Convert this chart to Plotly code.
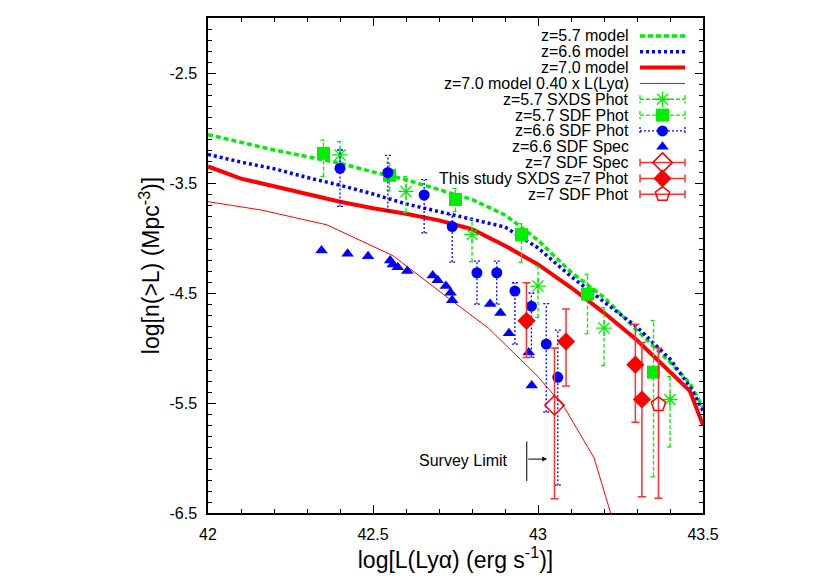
import plotly.graph_objects as go

X_RANGE = [42.0, 43.5]
Y_RANGE = [-6.5, -2.0]

# model curves
model_x = [42.0, 42.1, 42.2, 42.3, 42.4, 42.5, 42.6, 42.7, 42.8, 42.9, 43.0, 43.1, 43.2, 43.3, 43.4, 43.46, 43.5]
model_z57 = [-3.06, -3.13, -3.20, -3.26, -3.32, -3.40, -3.47, -3.56, -3.65, -3.79, -4.02, -4.31, -4.54, -4.84, -5.13, -5.32, -5.54]
model_z66 = [-3.24, -3.31, -3.37, -3.45, -3.52, -3.60, -3.69, -3.76, -3.83, -3.90, -4.09, -4.35, -4.58, -4.81, -5.10, -5.35, -5.57]
model_z70 = [-3.35, -3.46, -3.53, -3.60, -3.67, -3.73, -3.78, -3.84, -3.92, -4.07, -4.24, -4.45, -4.68, -4.93, -5.22, -5.39, -5.70]
faint_x = [42.0, 42.16, 42.36, 42.56, 42.73, 42.85, 43.0, 43.08, 43.17, 43.22, 43.30]
faint_z70 = [-3.67, -3.745, -3.88, -4.16, -4.55, -4.82, -5.26, -5.54, -6.00, -6.50, -7.30]

# z=5.7 SXDS Phot
sxds57_x = [42.40, 42.60, 42.80, 43.00, 43.20, 43.40]
sxds57_y = [-3.245, -3.577, -3.969, -4.437, -4.819, -5.468]
sxds57_hi = [-3.124, -3.441, -3.832, -4.256, -4.633, -5.260]
sxds57_lo = [-3.36, -3.767, -4.215, -4.723, -5.161, -5.900]

# z=5.7 SDF Phot
sdf57_x = [42.35, 42.55, 42.75, 42.95, 43.15, 43.35]
sdf57_y = [-3.23, -3.43, -3.65, -3.97, -4.51, -5.22]
sdf57_hi = [-3.11, -3.32, -3.55, -3.87, -4.33, -4.75]
sdf57_lo = [-3.44, -3.57, -3.76, -4.22, -4.87, -6.17]

# z=6.6 SDF Phot
sdf66_x = [42.40, 42.545, 42.655, 42.74, 42.815, 42.875, 42.93, 42.98, 43.025, 43.06]
sdf66_y = [-3.366, -3.405, -3.609, -3.896, -4.316, -4.316, -4.482, -4.62, -4.964, -5.267]
sdf66_hi = [-3.20, -3.248, -3.470, -3.788, -4.210, -4.210, -4.407, -4.50, -4.597, -4.838]
sdf66_lo = [-3.713, -3.758, -3.954, -4.219, -4.602, -4.602, -4.964, -5.086, -5.583, -6.247]

# z=6.6 SDF Spec
spec66_x = [42.344, 42.423, 42.485, 42.552, 42.560, 42.575, 42.604, 42.681, 42.696, 42.721,
            42.735, 42.740, 42.855, 42.886, 42.912, 42.972, 42.981]
spec66_y = [-4.114, -4.144, -4.167, -4.204, -4.240, -4.265, -4.301, -4.340, -4.385, -4.437,
            -4.497, -4.566, -4.600, -4.681, -4.867, -5.040, -5.342]

# z=7 SDF Spec
spec7_x = [43.05]
spec7_y = [-5.52]
spec7_hi = [-5.00]
spec7_lo = [-6.37]

# This study SXDS z=7 Phot
sxds7_x = [42.965, 43.085, 43.295, 43.315]
sxds7_y = [-4.753, -4.942, -5.152, -5.468]
sxds7_hi = [-4.407, -4.645, -4.783, -4.950]
sxds7_lo = [-5.086, -5.346, -5.674, -6.352]

# z=7 SDF Phot
sdf7_x = [43.365]
sdf7_y = [-5.513]
sdf7_hi = [-5.00]
sdf7_lo = [-6.367]

SURVEY_LIMIT = 42.966

x_ticks = [42, 42.5, 43, 43.5]
x_ticktext = ["42", "42.5", "43", "43.5"]
y_ticks = [-6.5, -5.5, -4.5, -3.5, -2.5]
y_ticktext = ["-6.5", "-5.5", "-4.5", "-3.5", "-2.5"]

GREEN = "#00ee00"
BLUE = "#0000ff"
RED = "#ff0000"
ERR_RED = "#ff3030"
FONT = "Liberation Sans, Arial, sans-serif"

W, H = 830, 581
PAGE_OFF = 8  # body margin of the html page
PL, PR, PT, PB = 208, 703, 16, 513  # plot box in screenshot pixels
PX_PER_X = (PR - PL) / (X_RANGE[1] - X_RANGE[0])


def err_segments(xs, lo, hi, cap_px=3):
    """vertical bars with small caps, separated by None"""
    c = cap_px / PX_PER_X
    ex, ey = [], []
    for x, l, h in zip(xs, lo, hi):
        ex += [x, x, None, x - c, x + c, None, x - c, x + c, None]
        ey += [l, h, None, l, l, None, h, h, None]
    return ex, ey


def err_arrays(ys, lo, hi):
    return dict(type="data", symmetric=False,
                array=[h - y for y, h in zip(ys, hi)],
                arrayminus=[y - l for y, l in zip(ys, lo)],
                color=ERR_RED, thickness=1.5, width=4)


fig = go.Figure()

# models
fig.add_trace(go.Scatter(x=model_x, y=model_z57, mode="lines",
                         line=dict(color=GREEN, width=3.5, dash="5px,3px")))
fig.add_trace(go.Scatter(x=model_x, y=model_z66, mode="lines",
                         line=dict(color=BLUE, width=3.5, dash="3px,3px")))
fig.add_trace(go.Scatter(x=model_x, y=model_z70, mode="lines",
                         line=dict(color=RED, width=4)))
fig.add_trace(go.Scatter(x=faint_x, y=faint_z70, mode="lines",
                         line=dict(color=RED, width=1)))

# dashed / dotted error bars
ex, ey = err_segments(sxds57_x, sxds57_lo, sxds57_hi)
fig.add_trace(go.Scatter(x=ex, y=ey, mode="lines", line=dict(color=GREEN, width=1.3, dash="4px,2px")))
fig.add_trace(go.Scatter(x=sxds57_x, y=sxds57_y, mode="markers",
                         marker=dict(symbol="asterisk-open", size=13, color=GREEN, line=dict(color=GREEN, width=1.3))))
ex, ey = err_segments(sdf57_x, sdf57_lo, sdf57_hi)
fig.add_trace(go.Scatter(x=ex, y=ey, mode="lines", line=dict(color=GREEN, width=1.3, dash="4px,2px")))
fig.add_trace(go.Scatter(x=sdf57_x, y=sdf57_y, mode="markers",
                         marker=dict(symbol="square", size=13, color=GREEN)))
ex, ey = err_segments(sdf66_x, sdf66_lo, sdf66_hi)
fig.add_trace(go.Scatter(x=ex, y=ey, mode="lines", line=dict(color=BLUE, width=1.3, dash="2px,2px")))
fig.add_trace(go.Scatter(x=sdf66_x, y=sdf66_y, mode="markers",
                         marker=dict(symbol="circle", size=11, color=BLUE)))
fig.add_trace(go.Scatter(x=spec66_x, y=spec66_y, mode="markers",
                         marker=dict(symbol="triangle-up", size=11, color=BLUE)))

# z=7 points, solid red bars
fig.add_trace(go.Scatter(x=spec7_x, y=spec7_y, mode="markers", error_y=err_arrays(spec7_y, spec7_lo, spec7_hi),
                         marker=dict(symbol="diamond-open", size=15, color=RED, line=dict(width=1.5))))
fig.add_trace(go.Scatter(x=sxds7_x, y=sxds7_y, mode="markers", error_y=err_arrays(sxds7_y, sxds7_lo, sxds7_hi),
                         marker=dict(symbol="diamond", size=14, color=RED)))
fig.add_trace(go.Scatter(x=sdf7_x, y=sdf7_y, mode="markers", error_y=err_arrays(sdf7_y, sdf7_lo, sdf7_hi),
                         marker=dict(symbol="pentagon-open", size=15, color=RED, line=dict(width=1.5))))

# key, gnuplot style: label right-aligned, sample on the right (pixel overlay axes)
key = [
    ("z=5.7 model", dict(color=GREEN, width=3.5, dash="5px,3px"), None, False),
    ("z=6.6 model", dict(color=BLUE, width=3.5, dash="3px,3px"), None, False),
    ("z=7.0 model", dict(color=RED, width=4), None, False),
    ("z=7.0 model 0.40 x L(Lyα)", dict(color=RED, width=1), None, False),
    ("z=5.7 SXDS Phot", dict(color=GREEN, width=1.3, dash="4px,2px"),
     dict(symbol="asterisk-open", size=13, color=GREEN, line=dict(color=GREEN, width=1.3)), True),
    ("z=5.7 SDF Phot", dict(color=GREEN, width=1.3, dash="4px,2px"),
     dict(symbol="square", size=13, color=GREEN), True),
    ("z=6.6 SDF Phot", dict(color=BLUE, width=1.3, dash="2px,2px"),
     dict(symbol="circle", size=11, color=BLUE), True),
    ("z=6.6 SDF Spec", None, dict(symbol="triangle-up", size=11, color=BLUE), False),
    ("z=7 SDF Spec", dict(color=ERR_RED, width=1.5),
     dict(symbol="diamond-open", size=15, color=RED, line=dict(width=1.5)), True),
    ("This study SXDS z=7 Phot", dict(color=ERR_RED, width=1.5),
     dict(symbol="diamond", size=14, color=RED), True),
    ("z=7 SDF Phot", dict(color=ERR_RED, width=1.5),
     dict(symbol="pentagon-open", size=15, color=RED, line=dict(width=1.5)), True),
]
k_x0, k_x1, k_text = 640, 685, 631
k_top, k_step = 34, 15.9
annotations = []
for i, (label, line, marker, caps) in enumerate(key):
    yy = k_top + i * k_step
    if line is not None:
        lx, ly = [k_x0, k_x1], [yy, yy]
        if caps:
            lx += [None, k_x0, k_x0, None, k_x1, k_x1]
            ly += [None, yy - 4, yy + 4, None, yy - 4, yy + 4]
        fig.add_trace(go.Scatter(x=lx, y=ly, mode="lines", line=line, xaxis="x2", yaxis="y2"))
    if marker is not None:
        fig.add_trace(go.Scatter(x=[(k_x0 + k_x1) / 2], y=[yy], mode="markers", marker=marker,
                                 xaxis="x2", yaxis="y2"))
    annotations.append(dict(x=k_text, y=yy, xref="x2", yref="y2", text=label, showarrow=False,
                            xanchor="right", yanchor="middle", font=dict(size=16, color="black")))

# survey limit marker
annotations.append(dict(x=SURVEY_LIMIT - 0.051, y=-6.02, xref="x", yref="y", text="Survey Limit",
                        showarrow=False, xanchor="right", yanchor="middle", font=dict(size=16, color="black")))
annotations.append(dict(x=SURVEY_LIMIT + 0.062, y=-6.01, ax=SURVEY_LIMIT, ay=-6.01, xref="x", yref="y",
                        axref="x", ayref="y", text="", showarrow=True, arrowhead=2, arrowsize=1,
                        arrowwidth=1, arrowcolor="black"))

fig.update_layout(
    width=W, height=H,
    margin=dict(l=PL - PAGE_OFF, r=W + PAGE_OFF - PR, t=PT - PAGE_OFF, b=H + PAGE_OFF - PB),
    plot_bgcolor="white", paper_bgcolor="white",
    showlegend=False,
    font=dict(family=FONT, size=16, color="black"),
    annotations=annotations,
    shapes=[dict(type="line", xref="x", yref="y", x0=SURVEY_LIMIT, x1=SURVEY_LIMIT, y0=-5.85, y1=-6.21,
                 line=dict(color="black", width=1))],
    xaxis=dict(range=X_RANGE, tickvals=x_ticks, ticktext=x_ticktext, ticks="inside", ticklen=8,
               tickwidth=1, tickcolor="black", showline=True, linecolor="black", linewidth=1.5,
               mirror="allticks", showgrid=False, zeroline=False, ticklabelstandoff=6,
               minor=dict(dtick=0.1, tick0=42, ticks="inside", ticklen=4, tickcolor="black", showgrid=False),
               title=dict(text="log[L(Lyα) (erg s<sup>-1</sup>)]", font=dict(size=23), standoff=6)),
    yaxis=dict(range=Y_RANGE, tickvals=y_ticks, ticktext=y_ticktext, ticks="inside", ticklen=8,
               tickwidth=1, tickcolor="black", showline=True, linecolor="black", linewidth=1.5,
               mirror="allticks", showgrid=False, zeroline=False, ticklabelstandoff=6,
               minor=dict(dtick=0.1, tick0=-2.0, ticks="inside", ticklen=4, tickcolor="black", showgrid=False),
               title=dict(text="log[n(&gt;L) (Mpc<sup>-3</sup>)]", font=dict(size=23), standoff=3)),
    xaxis2=dict(overlaying="x", range=[PL, PR], visible=False, fixedrange=True),
    yaxis2=dict(overlaying="y", range=[PB, PT], visible=False, fixedrange=True),
)

fig.write_html("out.html")
